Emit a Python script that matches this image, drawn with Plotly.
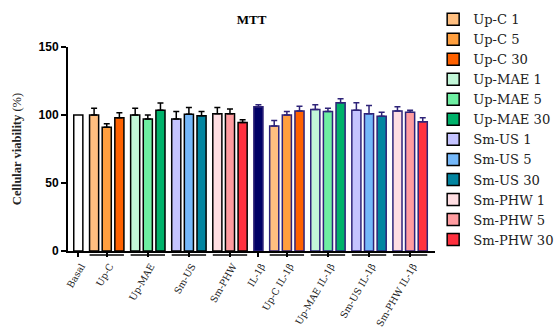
import plotly.graph_objects as go

# ---- data ----
categories = ["Basal", "Up-C", "Up-MAE", "Sm-US", "Sm-PHW",
              "IL-1β", "Up-C IL-1β", "Up-MAE IL-1β", "Sm-US IL-1β", "Sm-PHW IL-1β"]
extracts = ["Up-C", "Up-MAE", "Sm-US", "Sm-PHW"]
doses = ["1", "5", "30"]

basal_value = 100.0
basal_sd = 0.0
il_value = 106.0
il_sd = 1.5

# viability (%) without IL-1β
upc_vals = [100.0, 91.0, 98.0]
upmae_vals = [100.0, 97.0, 103.5]
smus_vals = [97.0, 100.5, 99.5]
smphw_vals = [101.0, 101.0, 94.5]
upc_sd = [5.0, 2.5, 3.7]
upmae_sd = [5.0, 3.0, 5.3]
smus_sd = [5.5, 5.0, 3.0]
smphw_sd = [4.5, 3.5, 2.0]

# viability (%) with IL-1β
upc_il_vals = [92.0, 100.0, 103.0]
upmae_il_vals = [104.0, 102.5, 109.0]
smus_il_vals = [103.5, 101.0, 99.0]
smphw_il_vals = [103.0, 102.0, 95.0]
upc_il_sd = [4.0, 2.5, 3.5]
upmae_il_sd = [3.5, 2.5, 3.0]
smus_il_sd = [5.5, 6.0, 3.0]
smphw_il_sd = [3.0, 1.5, 3.0]

y_ticks = [0, 50, 100, 150]

# ---- styles ----
colors = {
    "Up-C": ["#FFBF80", "#FF9F3F", "#FF6100"],
    "Up-MAE": ["#C2F7D8", "#6EEFA2", "#00B26A"],
    "Sm-US": ["#C4C3FF", "#74B8FA", "#0285A0"],
    "Sm-PHW": ["#FFDEE2", "#FF9CA0", "#FF313F"],
}
NAVY = "#000066"
IL_EDGE = "#2E2378"
serif = "DejaVu Serif"
serif2 = "Liberation Serif"

plain_vals = [upc_vals, upmae_vals, smus_vals, smphw_vals]
plain_sds = [upc_sd, upmae_sd, smus_sd, smphw_sd]
il_vals = [upc_il_vals, upmae_il_vals, smus_il_vals, smphw_il_vals]
il_sds = [upc_il_sd, upmae_il_sd, smus_il_sd, smphw_il_sd]

# ---- layout positions (slots with gap between categories) ----
sizes = [1, 3, 3, 3, 3, 1, 3, 3, 3, 3]
GAP = 0.25
starts = []
pos = 0.0
for s in sizes:
    starts.append(pos)
    pos += s + GAP
centers = [st + (s - 1) / 2 for st, s in zip(starts, sizes)]
BW = 0.72

fig = go.Figure()


def add_bar(x, y, sd, fill, edge, name=None, legend=False):
    fig.add_trace(go.Bar(
        x=[x], y=[y], width=BW, name=name, showlegend=legend,
        marker=dict(color=fill, line=dict(color=edge, width=1.5)),
        error_y=dict(type="data", array=[sd], arrayminus=[0], symmetric=False,
                     color=edge, thickness=1.5, width=3, visible=sd > 0),
        hoverinfo="y",
    ))


add_bar(starts[0], basal_value, basal_sd, "white", "black")
for gi, ext in enumerate(extracts):
    for di, d in enumerate(doses):
        add_bar(starts[1 + gi] + di, plain_vals[gi][di], plain_sds[gi][di],
                colors[ext][di], "black", name=f"{ext} {d}", legend=True)
add_bar(starts[5], il_value, il_sd, NAVY, IL_EDGE)
for gi, ext in enumerate(extracts):
    for di, d in enumerate(doses):
        add_bar(starts[6 + gi] + di, il_vals[gi][di], il_sds[gi][di],
                colors[ext][di], IL_EDGE)

# group lines under the axis
shapes = []
for st, s in zip(starts, sizes):
    if s > 1:
        shapes.append(dict(type="line", xref="x", yref="paper",
                           x0=st - BW / 2, x1=st + s - 1 + BW / 2,
                           y0=-0.02, y1=-0.02,
                           line=dict(color="black", width=1.5)))

fig.update_layout(
    width=558, height=328,
    margin=dict(l=68, r=123, t=47, b=77, autoexpand=False),
    paper_bgcolor="white", plot_bgcolor="white",
    barmode="overlay",
    shapes=shapes,
    title=dict(text="<b>MTT</b>", x=0.5, xref="paper", y=1 - 19 / 328,
               yanchor="middle", font=dict(family=serif2, size=13, color="black")),
    xaxis=dict(range=[-0.815, 28.22], showgrid=False, zeroline=False,
               showline=True, linecolor="black", linewidth=2,
               tickmode="array", tickvals=centers, ticktext=categories,
               ticks="outside", ticklen=4, tickwidth=1.5, tickcolor="black",
               tickangle=-60, ticklabelstandoff=0, ticklabelshift=3,
               tickfont=dict(family=serif, size=9.5, color="#222")),
    yaxis=dict(range=[0, 150], showgrid=False, zeroline=False,
               showline=True, linecolor="black", linewidth=2,
               tickmode="array", tickvals=y_ticks,
               ticks="outside", ticklen=5, tickwidth=2, tickcolor="black",
               tickfont=dict(family="Liberation Sans", size=12, color="black",
                             weight="bold"),
               title=dict(text="<b>Cellular viability</b> (%)", standoff=14,
                          font=dict(family=serif2, size=12.5, color="#222"))),
    legend=dict(x=0.995, xanchor="left", y=1.21, yanchor="top", maxheight=330,
                font=dict(family=serif, size=13.1, color="#222"),
                bgcolor="rgba(0,0,0,0)", borderwidth=0,
                traceorder="normal", itemclick=False),
)

fig.write_html("out.html")
